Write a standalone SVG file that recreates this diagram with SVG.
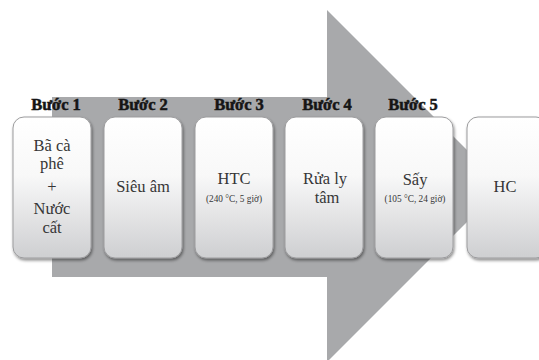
<svg xmlns="http://www.w3.org/2000/svg" width="539" height="360" viewBox="0 0 539 360">
  <defs>
    <linearGradient id="boxFill" x1="0" y1="0" x2="0" y2="1">
      <stop offset="0" stop-color="#ffffff"/>
      <stop offset="0.42" stop-color="#f8f8f8"/>
      <stop offset="1" stop-color="#cecfd1"/>
    </linearGradient>
    <filter id="shadow" x="-10%" y="-10%" width="130%" height="130%">
      <feDropShadow dx="1" dy="2" stdDeviation="1.5" flood-color="#000" flood-opacity="0.45"/>
    </filter>
  </defs>
  <style>
    .box { fill: url(#boxFill); stroke: #9c9c9e; stroke-width: 1; filter: url(#shadow); }
    text { font-family: 'Liberation Serif', 'DejaVu Serif', 'Times New Roman', serif; text-anchor: middle; }
    .step { font-weight: bold; font-size: 16.5px; fill: #151515; stroke: #151515; stroke-width: 0.5px; }
    .main { font-size: 16.5px; fill: #363636; }
    .small { font-size: 9.3px; fill: #363636; }
  </style>
  <rect width="539" height="360" fill="#ffffff"/>
  <g id="connectors">
    <polygon id="process-arrow" points="52,97 327,97 327,10 503,186 327,362 327,277 52,277" fill="#a8a9ab"/>
  </g>
  <g id="labels">
    <text class="step" x="56" y="110">Bước 1</text>
    <text class="step" x="143" y="110">Bước 2</text>
    <text class="step" x="239" y="110">Bước 3</text>
    <text class="step" x="327" y="110">Bước 4</text>
    <text class="step" x="413" y="110">Bước 5</text>
  </g>
  <g id="node-1">
    <rect class="box" x="13" y="117" width="78" height="141" rx="11"/>
    <text class="main" x="52" y="151">Bã cà</text>
    <text class="main" x="52" y="169">phê</text>
    <text class="main" x="52" y="192">+</text>
    <text class="main" x="52" y="214">Nước</text>
    <text class="main" x="52" y="233">cất</text>
  </g>
  <g id="node-2">
    <rect class="box" x="104" y="117" width="78" height="141" rx="11"/>
    <text class="main" x="143" y="192">Siêu âm</text>
  </g>
  <g id="node-3">
    <rect class="box" x="195" y="117" width="78" height="141" rx="11"/>
    <text class="main" x="234" y="184">HTC</text>
    <text class="small" x="234" y="202">(240 °C, 5 giờ)</text>
  </g>
  <g id="node-4">
    <rect class="box" x="285" y="117" width="78" height="141" rx="11"/>
    <text class="main" x="325" y="184">Rửa ly</text>
    <text class="main" x="327" y="203">tâm</text>
  </g>
  <g id="node-5">
    <rect class="box" x="375" y="117" width="78" height="141" rx="11"/>
    <text class="main" x="415" y="185">Sấy</text>
    <text class="small" x="415" y="202">(105 °C, 24 giờ)</text>
  </g>
  <g id="node-6">
    <rect class="box" x="467" y="117" width="80" height="141" rx="11"/>
    <text class="main" x="505" y="192">HC</text>
  </g>
</svg>
